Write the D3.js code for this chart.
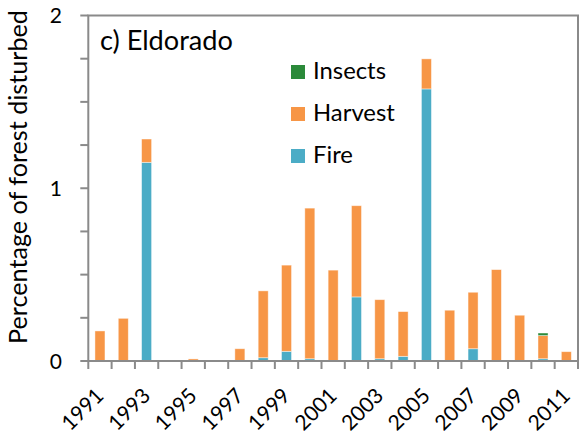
<!DOCTYPE html>
<html>
<head>
<meta charset="utf-8">
<script src="https://cdn.jsdelivr.net/npm/d3@7"></script>
<style>
  body { margin: 0; background: #fff; }
  svg text { font-family: Lato, "Open Sans", sans-serif; fill: #000; }
</style>
</head>
<body>
<svg id="chart" width="580" height="438"></svg>
<script>
// ---- data ----
var years   = ["1991","1992","1993","1994","1995","1996","1997","1998","1999","2000","2001",
               "2002","2003","2004","2005","2006","2007","2008","2009","2010","2011"];
var fire    = [0, 0, 1.15, 0, 0, 0, 0, 0.019, 0.056, 0.013, 0, 0.371, 0.013, 0.027, 1.575, 0, 0.071, 0, 0, 0.013, 0];
var harvest = [0.174, 0.247, 0.135, 0, 0.012, 0.004, 0.071, 0.387, 0.499, 0.872, 0.526, 0.528, 0.342, 0.259, 0.174, 0.294, 0.327, 0.529, 0.265, 0.134, 0.054];
var insects = [0, 0, 0, 0, 0, 0, 0, 0, 0, 0, 0, 0, 0, 0, 0, 0, 0, 0, 0, 0.015, 0];
var yTicks  = [0, 1, 2];
var xLabels = ["1991","1993","1995","1997","1999","2001","2003","2005","2007","2009","2011"];
var series  = ["Insects", "Harvest", "Fire"];   // legend order

var colors = { Fire: "#4BACC6", Harvest: "#F79646", Insects: "#2B8A3A" };
var axisGrey = "#8a8a8a";

// shrink/grow a text's font so it spans about the width seen in the reference
function fitWidth(sel, target) {
  sel.each(function() {
    var fs = parseFloat(this.style.fontSize);
    var w = this.getComputedTextLength();
    if (w > 0) this.style.fontSize = (fs * target / w).toFixed(2) + "px";
  });
}

// ---- layout ----
var svg = d3.select("#chart");
var mLeft = 88.3, mRight = 578, mTop = 15.5, mBottom = 361;

var x = d3.scaleBand().domain(years).range([mLeft, mRight]).padding(0);
var y = d3.scaleLinear().domain([0, 2]).range([mBottom, mTop]);

var rows = years.map(function(yr, i) {
  return { year: yr, Fire: fire[i], Harvest: harvest[i], Insects: insects[i] };
});
var stacked = d3.stack().keys(["Fire", "Harvest", "Insects"])(rows);

var barW = x.bandwidth() * 0.43;

// bars
svg.append("g").selectAll("g")
  .data(stacked)
  .enter().append("g")
  .attr("fill", function(s) { return colors[s.key]; })
  .selectAll("rect")
  .data(function(s) { return s.filter(function(d) { return d[1] - d[0] > 0; }); })
  .enter().append("rect")
  .attr("x", function(d) { return x(d.data.year) + (x.bandwidth() - barW) / 2; })
  .attr("width", barW)
  .attr("y", function(d) { return y(d[1]); })
  .attr("height", function(d) { return y(d[0]) - y(d[1]); })
  .attr("stroke", "rgba(255,255,255,0.55)")
  .attr("stroke-width", 0.8);

// frame (plot border)
svg.append("rect")
  .attr("x", mLeft).attr("y", mTop)
  .attr("width", mRight - mLeft).attr("height", mBottom - mTop)
  .attr("fill", "none")
  .attr("stroke", axisGrey)
  .attr("stroke-width", 2);

// y minor ticks every 0.25
svg.append("g").selectAll("line")
  .data(d3.range(0, 2.001, 0.25))
  .enter().append("line")
  .attr("x1", mLeft - 8).attr("x2", mLeft)
  .attr("y1", function(d) { return y(d); })
  .attr("y2", function(d) { return y(d); })
  .attr("stroke", axisGrey).attr("stroke-width", 2);

// y labels
svg.append("g").selectAll("text")
  .data(yTicks)
  .enter().append("text")
  .attr("x", 62)
  .attr("y", function(d) { return y(d) + 7.5; })
  .attr("text-anchor", "end")
  .style("font-size", "21px")
  .text(function(d) { return d; });

// x ticks at band boundaries
var bounds = years.map(function(yr) { return x(yr); }).concat([mRight]);
svg.append("g").selectAll("line")
  .data(bounds)
  .enter().append("line")
  .attr("x1", function(d) { return d; })
  .attr("x2", function(d) { return d; })
  .attr("y1", mBottom).attr("y2", mBottom + 8)
  .attr("stroke", axisGrey).attr("stroke-width", 2);

// x labels, rotated
svg.append("g").selectAll("text")
  .data(xLabels)
  .enter().append("text")
  .attr("transform", function(d) {
    var cx = x(d) + x.bandwidth() / 2 + 5;
    return "translate(" + cx + "," + (mBottom + 36) + ") rotate(-45)";
  })
  .attr("text-anchor", "end")
  .style("font-size", "21px")
  .text(function(d) { return d; })
  .call(fitWidth, 49);

// y axis title
svg.append("text")
  .attr("transform", "translate(27,177) rotate(-90)")
  .attr("text-anchor", "middle")
  .style("font-size", "20px")
  .text("Percentage of forest disturbed")
  .call(fitWidth, 334);

// panel label
svg.append("text")
  .attr("x", 100).attr("y", 50)
  .style("font-size", "22px")
  .text("c) Eldorado")
  .call(fitWidth, 133);

// legend
var leg = svg.append("g").selectAll("g")
  .data(series)
  .enter().append("g")
  .attr("transform", function(d, i) { return "translate(291," + (65 + i * 42) + ")"; });
leg.append("rect")
  .attr("width", 14).attr("height", 14)
  .attr("fill", function(d) { return colors[d]; });
leg.append("text")
  .attr("x", 22).attr("y", 13.5)
  .style("font-size", "21px")
  .text(function(d) { return d; });
leg.select("text").filter(function(d) { return d === "Insects"; }).call(fitWidth, 73);
leg.selectAll("text").style("font-size", svg.select("g:last-child text").style("font-size"));
</script>
</body>
</html>
